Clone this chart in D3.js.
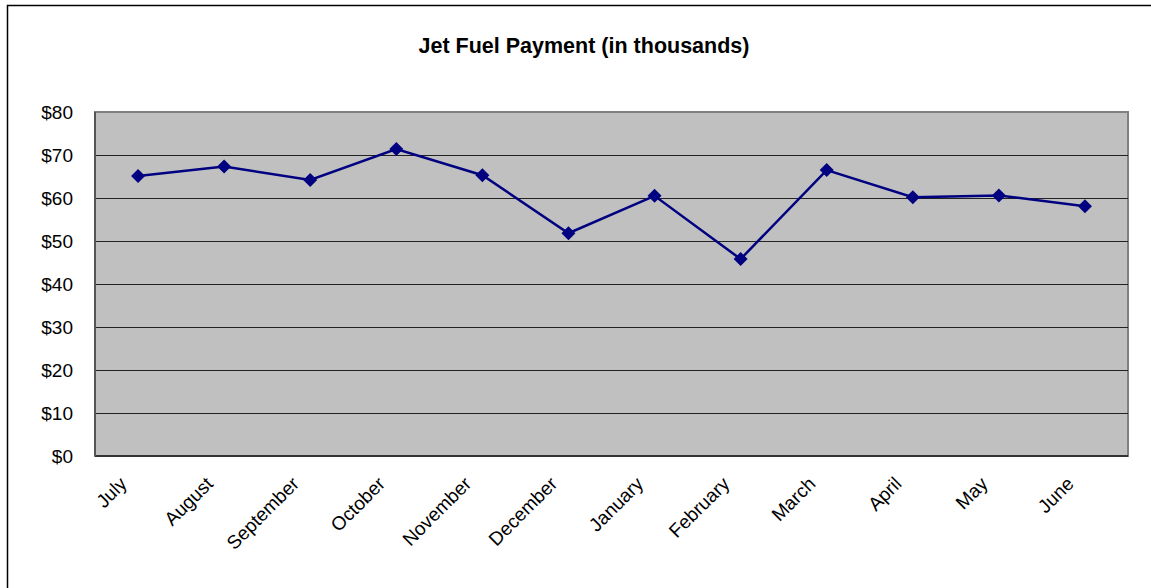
<!DOCTYPE html>
<html>
<head>
<meta charset="utf-8">
<script src="https://cdn.jsdelivr.net/npm/d3@7"></script>
<style>
  body { margin: 0; background: #fff; }
  svg { display: block; font-family: "Liberation Sans", Arial, sans-serif; }
</style>
</head>
<body>
<div id="chart"></div>
<script>
// values (thousands of dollars)
const months = ["July", "August", "September", "October", "November", "December",
                "January", "February", "March", "April", "May", "June"];
const payments = [65.1, 67.3, 64.2, 71.4, 65.3, 51.8, 60.5, 45.8, 66.5, 60.2, 60.6, 58.1];
const yTicks = [0, 10, 20, 30, 40, 50, 60, 70, 80];

const width = 1151, height = 588;
const margin = {top: 112, right: 23, bottom: 132, left: 95};

let svg = d3.select("#chart").append("svg")
    .attr("width", width)
    .attr("height", height);

// outer chart frame (runs past the right/bottom of the picture)
svg.append("rect")
    .attr("x", 7.5).attr("y", 5.5)
    .attr("width", width + 20).attr("height", height + 20)
    .attr("fill", "#fff")
    .attr("stroke", "#000")
    .attr("stroke-width", 1.5);

svg.append("text")
    .attr("x", 584).attr("y", 53)
    .attr("text-anchor", "middle")
    .attr("font-size", 21.5)
    .attr("font-weight", "bold")
    .text("Jet Fuel Payment (in thousands)");

let x = d3.scaleBand()
    .domain(months)
    .range([margin.left, width - margin.right]);

let y = d3.scaleLinear()
    .domain([0, 80])
    .range([height - margin.bottom, margin.top]);

// plot area
svg.append("rect")
    .attr("x", margin.left).attr("y", margin.top)
    .attr("width", width - margin.left - margin.right)
    .attr("height", height - margin.top - margin.bottom)
    .attr("fill", "#c0c0c0")
    .attr("stroke", "#808080")
    .attr("stroke-width", 2);

// gridlines
svg.append("g")
    .selectAll("line")
    .data(yTicks.filter(d => d > 0 && d < 80))
    .enter().append("line")
    .attr("x1", margin.left).attr("x2", width - margin.right)
    .attr("y1", d => Math.round(y(d)) + 0.5)
    .attr("y2", d => Math.round(y(d)) + 0.5)
    .attr("stroke", "#222")
    .attr("stroke-width", 1);

// axis lines
svg.append("line")
    .attr("x1", margin.left).attr("x2", width - margin.right)
    .attr("y1", y(0)).attr("y2", y(0))
    .attr("stroke", "#333").attr("stroke-width", 2);
svg.append("line")
    .attr("x1", margin.left).attr("x2", margin.left)
    .attr("y1", y(0)).attr("y2", y(80))
    .attr("stroke", "#555").attr("stroke-width", 2);

// y axis labels
let yAxis = d3.axisLeft(y)
    .tickValues(yTicks)
    .tickFormat(d => "$" + d)
    .tickSize(0)
    .tickPadding(22);

let gy = svg.append("g")
    .attr("transform", "translate(" + margin.left + ",0)")
    .call(yAxis);
gy.select(".domain").remove();
gy.selectAll("text")
    .attr("font-size", 19)
    .attr("font-family", "Liberation Sans, Arial, sans-serif")
    .attr("fill", "#000");

// x axis labels, rotated
let xAxis = d3.axisBottom(x).tickSize(0).tickPadding(0);
let gx = svg.append("g")
    .attr("transform", "translate(0," + y(0) + ")")
    .call(xAxis);
gx.select(".domain").remove();
gx.selectAll("text")
    .attr("font-size", 19)
    .attr("font-family", "Liberation Sans, Arial, sans-serif")
    .attr("fill", "#000")
    .attr("text-anchor", "end")
    .attr("dy", 0)
    .attr("transform", "translate(-10,29) rotate(-45)");

// series line
let line = d3.line()
    .x((d, i) => x(months[i]) + x.bandwidth() / 2)
    .y(d => y(d));

svg.append("path")
    .datum(payments)
    .attr("d", line)
    .attr("fill", "none")
    .attr("stroke", "#000080")
    .attr("stroke-width", 2.5);

// diamond markers
svg.append("g")
    .selectAll("path")
    .data(payments)
    .enter().append("path")
    .attr("transform", (d, i) =>
        "translate(" + (x(months[i]) + x.bandwidth() / 2) + "," + y(d) + ")")
    .attr("d", "M0,-7L7,0L0,7L-7,0Z")
    .attr("fill", "#000080");
</script>
</body>
</html>
